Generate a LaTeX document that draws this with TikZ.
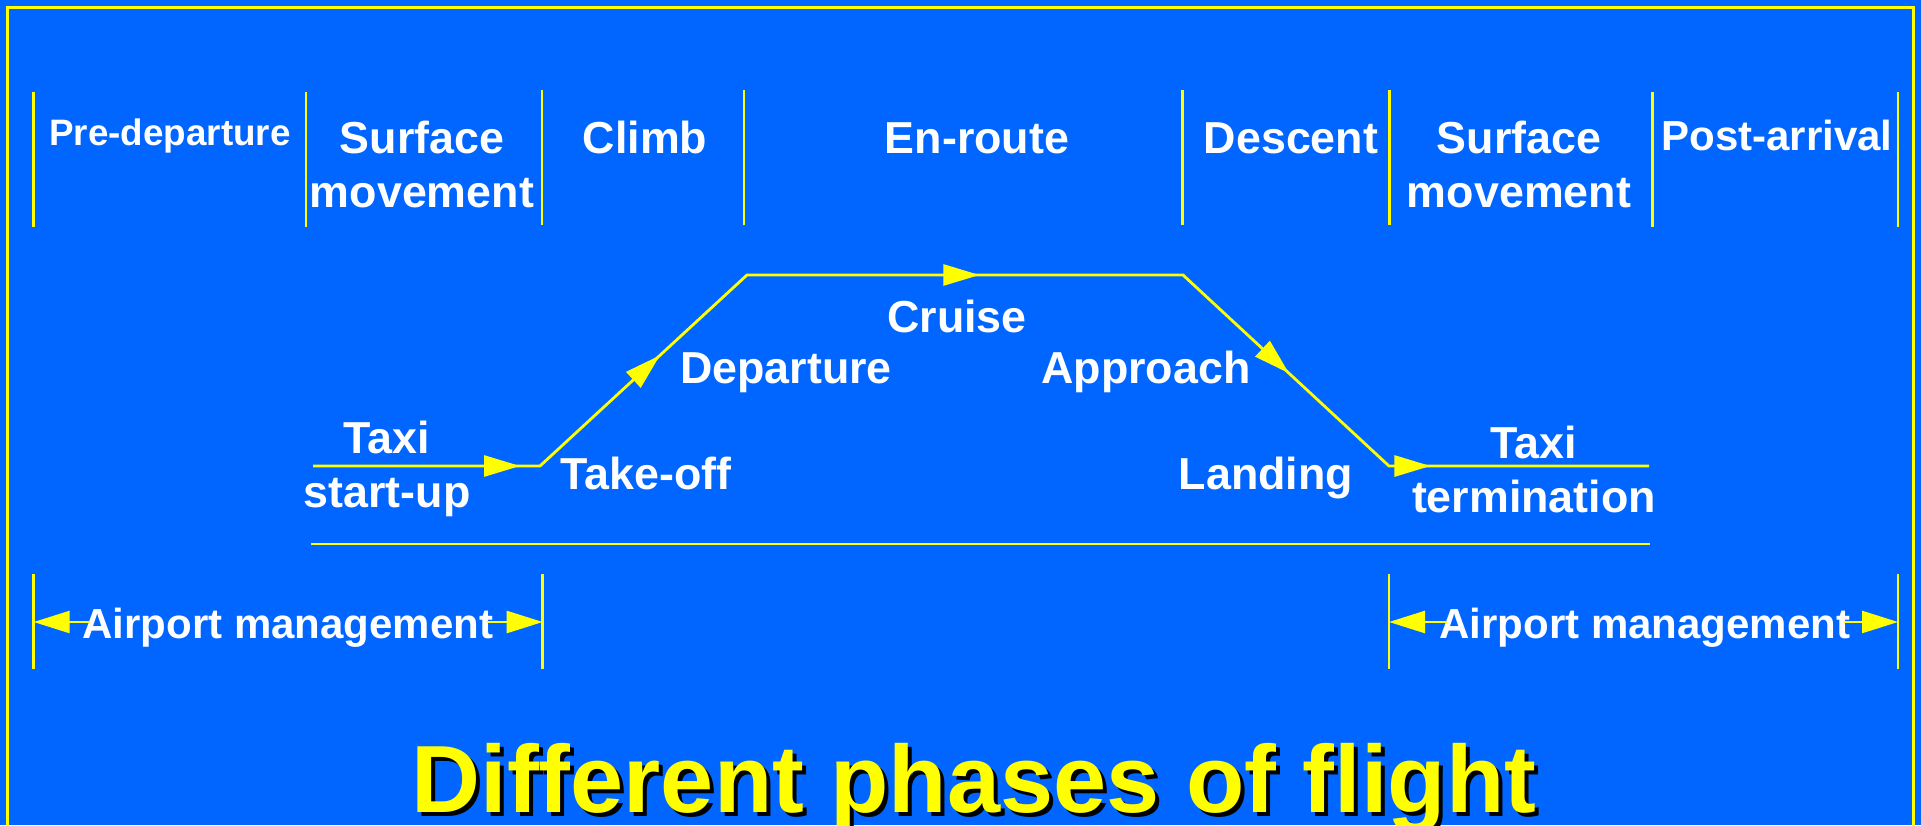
\documentclass[tikz,border=0pt]{standalone}
\usepackage{fontspec}
\setmainfont{Liberation Sans}[Ligatures=NoCommon]
\usetikzlibrary{arrows.meta,decorations.markings}
\definecolor{slideblue}{RGB}{0,102,255}
\definecolor{slideyellow}{RGB}{255,255,0}
\tikzset{
    flowtip/.tip={Triangle[length=36pt, width=21pt]},
    phase/.style={
            text=white, inner sep=0pt, anchor=base, align=center,
            font=\bfseries\fontsize{44.8}{54}\selectfont
        },
    divider/.style={slideyellow, line width=2.5pt},
    flightpath/.style={
            slideyellow, line width=2.8pt,
            postaction={decorate},
            decoration={markings,
                    mark=at position 207pt with {\arrow{flowtip}},
                    mark=at position 390pt with {\arrow{flowtip}},
                    mark=at position 741pt with {\arrow{flowtip}},
                    mark=at position 1089pt with {\arrow{flowtip}},
                    mark=at position 1267pt with {\arrow{flowtip}}
                }
        },
    mgmt/.style={phase, font=\bfseries\fontsize{42}{50}\selectfont},
    span/.style={slideyellow, line width=2.5pt, -{Triangle[length=36pt, width=22pt]}},
    titletext/.style={
            inner sep=0pt, anchor=base, text=slideyellow,
            font=\bfseries\fontsize{95.5}{110}\selectfont
        }
}

\begin{document}
\begin{tikzpicture}[x=1pt, y=-1pt]
    \useasboundingbox (0,0) rectangle (1921,825);
    \clip (0,0) rectangle (1921,825);
    \fill[slideblue] (0,0) rectangle (1921,825);
    \draw[slideyellow, line width=3pt] (7.5,7.5) rectangle (1913.5,900);

    \foreach \x/\top in {33.5/92, 306/92, 542/90, 744/90, 1182.5/90, 1389.5/90, 1652.5/92, 1898/92}
    \draw[divider] (\x,\top) -- (\x,\top+135);

    \node[phase, font=\bfseries\fontsize{36.8}{44}\selectfont] (predep) at (170,145) {Pre-departure};
    \node[phase] (surfdep) at (422,207) {Surface\\movement};
    \node[phase] (climb) at (645,153) {Climb};
    \node[phase] (enroute) at (977,153) {En-route};
    \node[phase] (descent) at (1291,153) {Descent};
    \node[phase] (surfarr) at (1519,207) {Surface\\movement};
    \node[phase, font=\bfseries\fontsize{42}{50}\selectfont] (postarr) at (1777,150) {Post-arrival};

    \coordinate (startup) at (313,466);
    \coordinate (liftoff) at (540,466);
    \coordinate (toc) at (747,275);
    \coordinate (tod) at (1183,275);
    \coordinate (touchdown) at (1389,466);
    \coordinate (termend) at (1649,466);
    \draw[flightpath] (startup) -- (liftoff) -- (toc) -- (tod) -- (touchdown) -- (termend);

    \coordinate (groundA) at (311,544);
    \coordinate (groundB) at (1650,544);
    \draw[slideyellow, line width=2.8pt] (groundA) -- (groundB);

    \node[phase] (taxiout) at (387,507) {Taxi\\start-up};
    \node[phase] (takeoff) at (646,489) {Take-off};
    \node[phase] (departure) at (786,383) {Departure};
    \node[phase] (cruise) at (957,332) {Cruise};
    \node[phase] (approach) at (1146,383) {Approach};
    \node[phase] (landing) at (1266,489) {Landing};
    \node[phase] (taxiin) at (1534,512) {Taxi\\termination};

    \foreach \x in {33.7, 542.7, 1389, 1898}
    \draw[divider] (\x,574) -- (\x,669);
    \coordinate (depgate) at (33.7,622);
    \coordinate (depexit) at (542.7,622);
    \coordinate (arrgate) at (1389,622);
    \coordinate (arrexit) at (1898,622);

    \node[mgmt] (mgmtdep) at (288,638) {Airport management};
    \node[mgmt] (mgmtarr) at (1645,638) {Airport management};
    \draw[span] ([xshift=8pt]mgmtdep.west |- depgate) -- (depgate);
    \draw[span] ([xshift=-7pt]mgmtdep.east |- depexit) -- (depexit);
    \draw[span] ([xshift=8pt]mgmtarr.west |- arrgate) -- (arrgate);
    \draw[span] ([xshift=-7pt]mgmtarr.east |- arrexit) -- (arrexit);

    \node[titletext, text=black] (titleshade) at (978,816) {Different phases of flight};
    \node[titletext] (title) at (974,812) {Different phases of flight};
\end{tikzpicture}
\end{document}
